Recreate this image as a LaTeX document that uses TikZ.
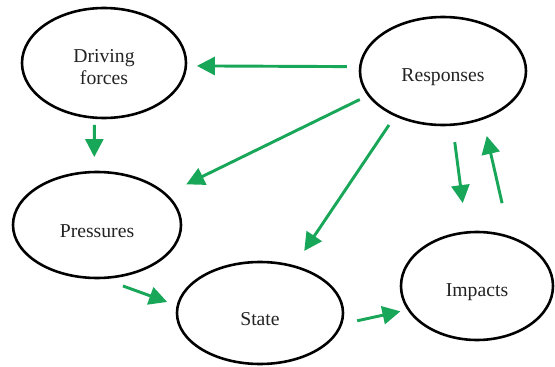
\documentclass[tikz,border=0pt]{standalone}
\usepackage{fontspec}
\setmainfont{Liberation Serif}
\usetikzlibrary{arrows.meta,shapes.geometric}
\definecolor{arrgreen}{RGB}{24,166,88}
\definecolor{txt}{RGB}{35,35,35}
\newcommand{\lowtext}[1]{\raisebox{-5pt}[\height][\depth]{#1}}
\begin{document}
\begin{tikzpicture}[x=0.03cm,y=-0.03cm,
  blob/.style={ellipse, draw=black, line width=2.2pt, inner sep=0pt, outer sep=0pt,
    font=\fontsize{16.8}{19.5}\selectfont, text=txt},
  arr/.style={draw=arrgreen, line width=2.5pt, -{Triangle[length=0.54cm,width=0.54cm]}},
]
\useasboundingbox (0,0) rectangle (555,367);
\node[blob, minimum width=4.92cm, minimum height=3.30cm] (drive) at (104,63)
  {\lowtext{\begin{tabular}{@{}c@{}}Driving\\forces\end{tabular}}};
\node[blob, minimum width=4.98cm, minimum height=3.24cm] (resp) at (443,71) {\lowtext{Responses}};
\node[blob, minimum width=5.04cm, minimum height=3.18cm] (pres) at (97,225) {\lowtext{Pressures}};
\node[blob, minimum width=4.98cm, minimum height=3.06cm] (state) at (260,313) {\lowtext{State}};
\node[blob, minimum width=4.56cm, minimum height=3.24cm] (imp) at (477,286) {\lowtext{Impacts}};

\draw[arr, shorten <=0.40cm, shorten >=0.33cm] (resp.177) -- (drive.-2);
\draw[arr, shorten <=0.22cm, shorten >=0.45cm] (drive.-100) -- (pres.93);
\draw[arr, shorten <=0.30cm, shorten >=0.69cm] (resp.-162) -- (pres.24);
\draw[arr, shorten <=0.35cm, shorten >=0.56cm] (resp.-137) -- (state.54);
\draw[arr, shorten <=0.53cm, shorten >=0.89cm] (resp.-80) -- (imp.101);
\draw[arr, shorten <=1.05cm, shorten >=0.54cm] (imp.56) -- (resp.-50);
\draw[arr, shorten <=0.71cm, shorten >=0.34cm] (pres.-86) -- (state.175);
\draw[arr, shorten <=0.50cm, shorten >=0.25cm] (state.-8) -- (imp.-161);
\end{tikzpicture}
\end{document}
